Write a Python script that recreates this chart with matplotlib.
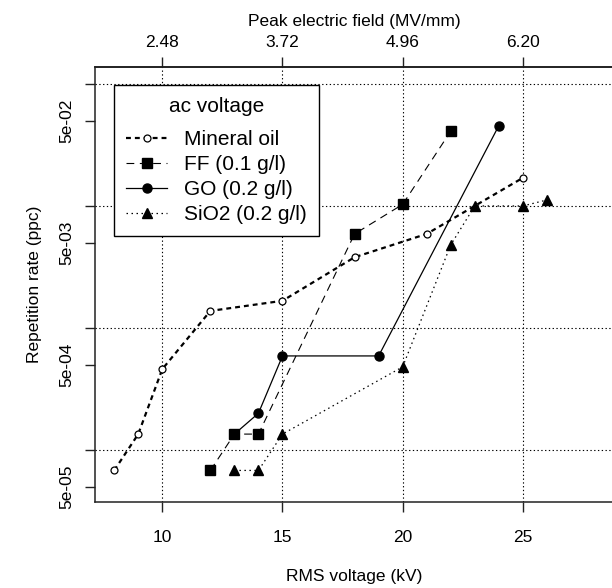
#plot.py - repetition rate vs RMS voltage (ac), log scale
import matplotlib
matplotlib.use('Agg')
import matplotlib.pyplot as plt

plt.rcParams['font.family'] = ['Liberation Sans', 'DejaVu Sans']

# data
mo_x = [8, 9, 10, 12, 15, 18, 21, 25]     #Mineral oil
mo_y = [6.8e-05, 1.35e-04, 4.6e-04, 1.38e-03, 1.67e-03, 3.8e-03, 5.9e-03, 1.7e-02]
ff_x = [12, 13, 14, 18, 20, 22]           #FF (0.1 g/l)
ff_y = [6.8e-05, 1.35e-04, 1.35e-04, 5.9e-03, 1.03e-02, 4.1e-02]
go_x = [13, 14, 15, 19, 24]               #GO (0.2 g/l)
go_y = [1.35e-04, 2.0e-04, 5.9e-04, 5.9e-04, 4.55e-02]
si_x = [13, 14, 15, 20, 22, 23, 25, 26]   #SiO2 (0.2 g/l)
si_y = [6.8e-05, 6.8e-05, 1.35e-04, 4.8e-04, 4.8e-03, 1.0e-02, 1.0e-02, 1.12e-02]

x_ticks = [10, 15, 20, 25]
top_labels = ['2.48', '3.72', '4.96', '6.20']   #peak field for each voltage
y_major = [5e-05, 5e-04, 5e-03, 5e-02]
y_labels = ['5e-05', '5e-04', '5e-03', '5e-02']
y_minor = [1e-04, 1e-03, 1e-02, 1e-01]

fig = plt.figure(figsize=(6.12, 5.88), dpi=100)
ax = fig.add_axes([0.1552, 0.1463, 0.8484, 0.7398])  #right edge runs off the picture

ax.plot(mo_x, mo_y, color='black', lw=1.6, dashes=(2.2, 1.8), marker='o', ms=5,
        mfc='white', mec='black', mew=0.9, label='Mineral oil')
ax.plot(ff_x, ff_y, color='black', lw=0.8, dashes=(7, 5), marker='s', ms=7,
        label='FF (0.1 g/l)')
ax.plot(go_x, go_y, color='black', lw=0.9, marker='o', ms=6.5, label='GO (0.2 g/l)')
ax.plot(si_x, si_y, color='black', lw=0.9, dashes=(1.2, 2.8), marker='^', ms=7.5,
        label='SiO2 (0.2 g/l)')

ax.set_yscale('log')
ax.set_xlim(7.2, 28.8)
ax.set_ylim(10**-4.426, 10**-0.861)   #R style 4% padding round 5e-05 .. 0.1

# y axis: labelled ticks at 5eN, unlabelled ones with grid at 1eN
ax.set_yticks(y_major)
ax.set_yticklabels(y_labels, rotation=90, va='center')
ax.set_yticks(y_minor, minor=True)
ax.yaxis.set_minor_formatter(matplotlib.ticker.NullFormatter())
ax.set_xticks(x_ticks)

ax.tick_params(axis='both', which='both', direction='out', length=7, width=1,
               labelsize=12.5, color='#222222')
ax.tick_params(axis='y', which='major', pad=8)
ax.tick_params(axis='x', pad=13.5)

ax.grid(True, axis='x', which='major', color='black', lw=0.8, dashes=(1.2, 2.2))
ax.grid(True, axis='y', which='minor', color='black', lw=0.8, dashes=(1.2, 2.2))
ax.set_axisbelow(True)

for s in ax.spines.values():
    s.set_linewidth(1.1)
    s.set_color('#222222')

ax.set_xlabel('RMS voltage (kV)', fontsize=12.5, labelpad=17)
ax.set_ylabel('Repetition rate (ppc)', fontsize=12.5, labelpad=12)

# top axis for the peak electric field
top = ax.secondary_xaxis('top')
top.set_xticks(x_ticks)
top.set_xticklabels(top_labels)
top.tick_params(direction='out', length=7, width=1, labelsize=12.5, pad=5, color='#222222')
top.spines['top'].set_linewidth(1.1)
top.set_xlabel('Peak electric field (MV/mm)', fontsize=12.5, labelpad=7)

leg = ax.legend(loc='upper left', bbox_to_anchor=(0.0366, 0.9586), borderaxespad=0,
                title='ac voltage', fontsize=15, title_fontsize=15, fancybox=False,
                framealpha=1, edgecolor='black', handlelength=1.95, handletextpad=0.8,
                labelspacing=0.28, borderpad=0.6)
leg.get_frame().set_linewidth(1.0)
leg._legend_box.sep = 10   #more room under the title, like the original

fig.savefig('out.png', dpi=100)
